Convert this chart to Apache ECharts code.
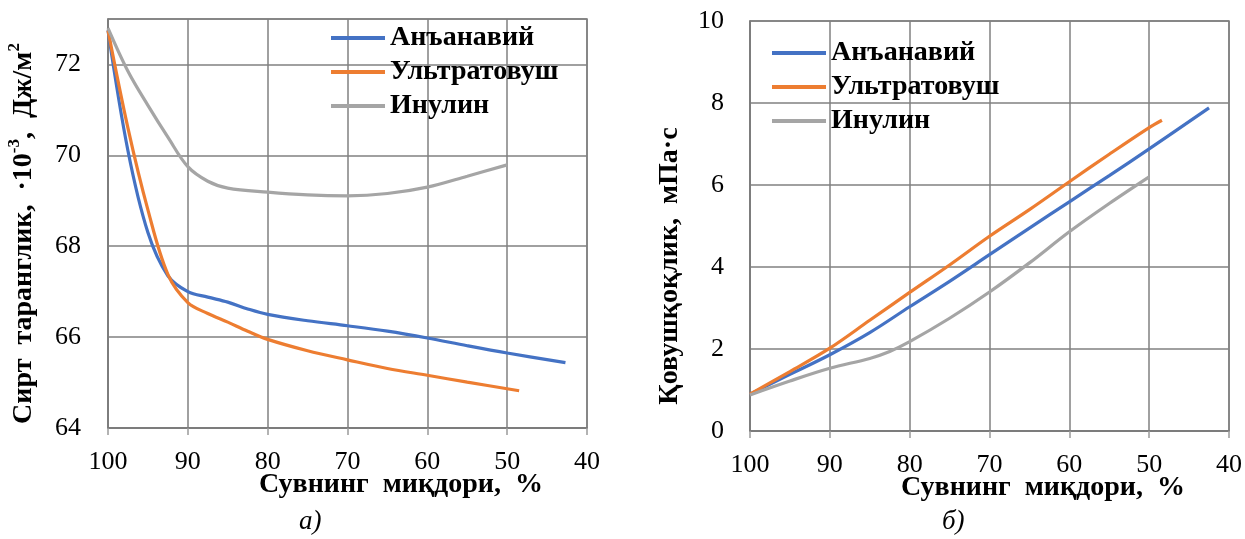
<!DOCTYPE html>
<html>
<head>
<meta charset="utf-8">
<script src="https://cdn.jsdelivr.net/npm/echarts@6/dist/echarts.min.js"></script>
<style>
  html, body { margin: 0; padding: 0; background: #fff; }
  #chart { width: 1245px; height: 539px; }
</style>
</head>
<body>
<div id="chart"></div>
<script>
// Series names (legend)
const seriesNames = ['Анъанавий', 'Ультратовуш', 'Инулин'];

// а) surface tension vs water content: [water %, value]
const tensionTraditional = [
  [100, 72.75], [97.5, 70.1], [95, 68.3], [92.5, 67.35], [90, 67.0], [87.5, 66.88],
  [85, 66.77], [82.5, 66.62], [80, 66.5], [75, 66.36], [70, 66.25], [65, 66.13],
  [60, 65.98], [55, 65.81], [50, 65.65], [42.7, 65.44]
];
const tensionUltrasound = [
  [100, 72.75], [97.5, 70.6], [95, 68.8], [92.5, 67.38], [90, 66.76], [87.5, 66.52],
  [85, 66.33], [82.5, 66.13], [80, 65.95], [75, 65.7], [70, 65.5], [65, 65.31],
  [60, 65.16], [55, 65.01], [48.5, 64.82]
];
const tensionInulin = [
  [100, 72.8], [97.5, 71.85], [95, 71.1], [92.5, 70.4], [90, 69.75], [87.5, 69.43],
  [85, 69.28], [80, 69.19], [75, 69.13], [70, 69.11], [65, 69.16], [60, 69.3],
  [55, 69.54], [50, 69.79]
];

// б) viscosity vs water content: [water %, value]
const viscTraditional = [
  [100, 0.9], [95, 1.38], [90, 1.86], [85, 2.4], [80, 3.03], [75, 3.65], [70, 4.3],
  [65, 4.95], [60, 5.59], [55, 6.23], [50, 6.88], [42.5, 7.88]
];
const viscUltrasound = [
  [100, 0.9], [95, 1.45], [90, 2.02], [85, 2.7], [80, 3.38], [75, 4.05], [70, 4.75],
  [65, 5.4], [60, 6.08], [55, 6.75], [50, 7.4], [48.4, 7.58]
];
const viscInulin = [
  [100, 0.88], [95, 1.22], [90, 1.53], [85, 1.77], [82.5, 1.94], [80, 2.18], [75, 2.75],
  [70, 3.39], [65, 4.1], [60, 4.86], [55, 5.55], [50, 6.2]
];

// Axis titles and captions
const xTitle = 'Сувнинг  миқдори,  %';
const yTitleLeft = ['Сирт  таранглик,  ·10', '-3', ',  Дж/м', '2'];
const yTitleRight = 'Қовушқоқлик,  мПа·с';
const captions = ['а)', 'б)'];

const colors = ['#4472C4', '#ED7D31', '#A5A5A5'];
const FONT = 'Liberation Serif';
const gridColor = '#808080';

function xAxisFor(gridIndex) {
  return {
    type: 'value', gridIndex, min: 40, max: 100, interval: 10, inverse: true,
    axisLine: { show: true, lineStyle: { color: '#7a7a7a', width: 1.5 } },
    axisTick: { show: true, length: 7, lineStyle: { color: '#9a9a9a', width: 1.5 } },
    splitLine: { show: true, lineStyle: { color: gridColor, width: 1.5 } },
    axisLabel: { fontFamily: FONT, fontSize: 26, color: '#000', margin: 21 },
    name: xTitle, nameLocation: 'middle', nameGap: 43, nameMoveOverlap: false,
    nameTextStyle: { fontFamily: FONT, fontSize: 28, fontWeight: 'bold', color: '#000', padding: [0, 0, 0, 107] }
  };
}

const yNameRich = {
  n: { fontFamily: FONT, fontSize: 28, fontWeight: 'bold', color: '#000', lineHeight: 32, verticalAlign: 'bottom' },
  s: { fontFamily: FONT, fontSize: 17, fontWeight: 'bold', color: '#000', lineHeight: 32, verticalAlign: 'top' }
};

function lineSeries(name, data, idx, axisIdx) {
  return {
    name, type: 'line', data, xAxisIndex: axisIdx, yAxisIndex: axisIdx,
    smooth: 0.35, symbol: 'none', clip: false,
    lineStyle: { color: colors[idx], width: 3.2 },
    itemStyle: { color: colors[idx] }
  };
}

const legendBase = {
  orient: 'vertical', icon: 'rect', itemWidth: 54, itemHeight: 4, itemGap: 4, padding: 0,
  data: seriesNames,
  textStyle: { fontFamily: FONT, fontSize: 28, fontWeight: 'bold', color: '#000', lineHeight: 30 }
};

const chart = echarts.init(document.getElementById('chart'), null, { renderer: 'canvas' });
chart.setOption({
  animation: false,
  backgroundColor: '#fff',
  grid: [
    { left: 108, top: 19, width: 479, height: 409, show: true, borderColor: '#7a7a7a', borderWidth: 1.5 },
    { left: 750, top: 21, width: 479, height: 410, show: true, borderColor: '#7a7a7a', borderWidth: 1.5 }
  ],
  xAxis: [xAxisFor(0), xAxisFor(1)],
  yAxis: [
    {
      type: 'value', gridIndex: 0, min: 64, max: 73, interval: 2,
      axisLine: { show: true, lineStyle: { color: '#7a7a7a', width: 1.5 } },
      axisTick: { show: false },
      splitLine: { show: true, lineStyle: { color: gridColor, width: 1.5 } },
      axisLabel: { fontFamily: FONT, fontSize: 26, color: '#000', margin: 27,
        formatter: v => (v % 2 === 0 ? String(v) : '') },
      name: '{n|' + yTitleLeft[0] + '}{s|' + yTitleLeft[1] + '}{n|' + yTitleLeft[2] + '}{s|' + yTitleLeft[3] + '}',
      nameLocation: 'middle', nameGap: 70, nameRotate: 90, nameMoveOverlap: false,
      nameTextStyle: { rich: yNameRich, padding: [0, 20, 0, 0] }
    },
    {
      type: 'value', gridIndex: 1, min: 0, max: 10, interval: 2,
      axisLine: { show: true, lineStyle: { color: '#7a7a7a', width: 1.5 } },
      axisTick: { show: false },
      splitLine: { show: true, lineStyle: { color: gridColor, width: 1.5 } },
      axisLabel: { fontFamily: FONT, fontSize: 26, color: '#000', margin: 26 },
      name: yTitleRight,
      nameLocation: 'middle', nameGap: 66, nameRotate: 90, nameMoveOverlap: false,
      nameTextStyle: { fontFamily: FONT, fontSize: 28, fontWeight: 'bold', color: '#000', padding: [0, 80, 0, 0] }
    }
  ],
  legend: [
    Object.assign({}, legendBase, { left: 331, top: 23 }),
    Object.assign({}, legendBase, { left: 772, top: 38 })
  ],
  graphic: [
    { type: 'text', left: 299, top: 508, style: { text: captions[0], font: 'italic 27px "Liberation Serif"', fill: '#000' } },
    { type: 'text', left: 942, top: 508, style: { text: captions[1], font: 'italic 27px "Liberation Serif"', fill: '#000' } }
  ],
  series: [
    lineSeries(seriesNames[0], tensionTraditional, 0, 0),
    lineSeries(seriesNames[1], tensionUltrasound, 1, 0),
    lineSeries(seriesNames[2], tensionInulin, 2, 0),
    lineSeries(seriesNames[0], viscTraditional, 0, 1),
    lineSeries(seriesNames[1], viscUltrasound, 1, 1),
    lineSeries(seriesNames[2], viscInulin, 2, 1)
  ]
});
</script>
</body>
</html>
